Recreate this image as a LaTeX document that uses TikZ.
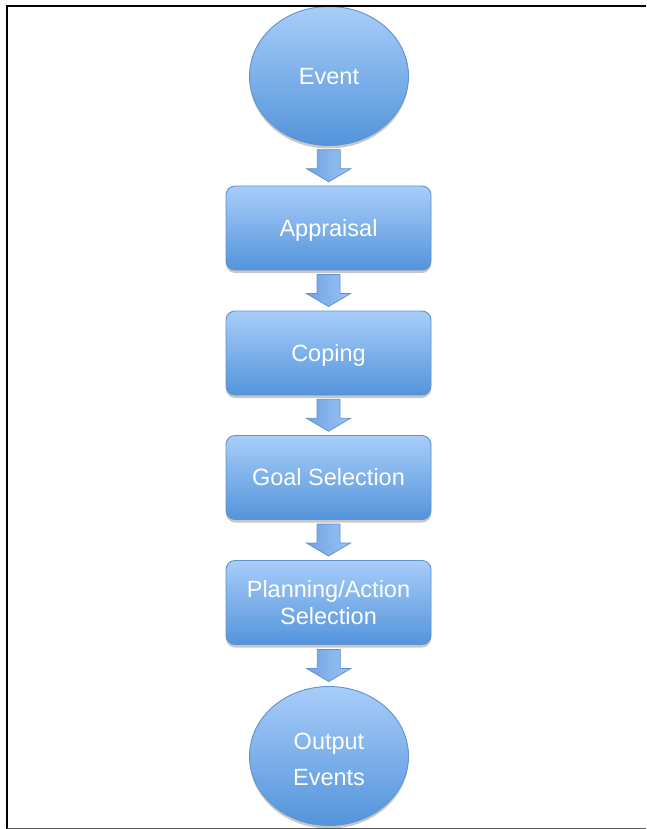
\documentclass[tikz,border=0pt]{standalone}
\usepackage{fontspec}
\setmainfont{Liberation Sans}
\usetikzlibrary{shapes.geometric,shadows,calc}
\definecolor{boxtop}{HTML}{A8CDF9}
\definecolor{boxbot}{HTML}{5394DB}
\definecolor{boxline}{HTML}{5E93CF}
\definecolor{arrowl}{HTML}{6FA3E3}
\definecolor{arrowr}{HTML}{9CC3F3}
\tikzset{
  flowbase/.style={draw=boxline, line width=0.9pt, top color=boxtop, bottom color=boxbot,
    text=white, align=center, inner sep=2pt, text depth=1pt,
    font=\fontsize{23.5}{27}\selectfont,
    drop shadow={shadow xshift=0pt, shadow yshift=-3pt, opacity=0.22, fill=black}},
  stepbox/.style={flowbase, rectangle, rounded corners=9pt, minimum width=205pt, minimum height=84pt},
  endpoint/.style={flowbase, ellipse, minimum width=159pt, minimum height=139pt},
  framel/.style={line width=2pt, black},
}
\newcommand{\blockarrow}[2]{%
  \coordinate (m#1#2) at ($(#1.south)!0.5!(#2.north)$);
  \draw[boxline, line width=0.8pt, left color=arrowl, right color=arrowr, line join=miter]
    (m#1#2) ++(-11.5,-16) -- ++(0,19) -- ++(-10.5,0) -- ++(22,13) -- ++(22,-13)
    -- ++(-10.5,0) -- ++(0,-19) -- cycle;
}
\begin{document}
\begin{tikzpicture}[x=1pt,y=-1pt]
\useasboundingbox (0,0) rectangle (646,829);

\node[endpoint] (event) at (329,76) {\rule{0pt}{19pt}Event};
\node[stepbox] (appr) at (328.5,228) {Appraisal};
\node[stepbox] (coping) at (328.5,353) {Coping};
\node[stepbox] (goal) at (328.5,477.5) {Goal Selection};
\node[stepbox] (plan) at (328.5,602.5) {Planning/Action\\Selection};
\node[endpoint, font=\fontsize{23.5}{36}\selectfont] (out) at (329,756) {\rule{0pt}{23pt}Output\\Events};

\blockarrow{event}{appr}
\blockarrow{appr}{coping}
\blockarrow{coping}{goal}
\blockarrow{goal}{plan}
\blockarrow{plan}{out}

\draw[framel] (6.5,829) -- (6.5,6.5) -- (646,6.5);
\draw[line width=1.5pt, black!65] (6.5,828.5) -- (646,828.5);
\end{tikzpicture}
\end{document}
